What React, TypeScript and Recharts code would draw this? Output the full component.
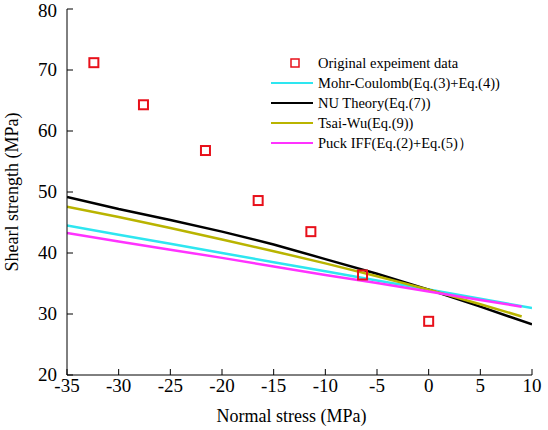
import { ComposedChart, Line, Scatter, XAxis, YAxis, Label } from 'recharts'

// measured points
const expStress = [-32.4, -27.6, -21.6, -16.5, -11.4, -6.4, 0]
const expStrength = [71.2, 64.3, 56.8, 48.6, 43.5, 36.4, 28.8]

// theory curves, sampled every 5 MPa
const stress = [-35, -30, -25, -20, -15, -10, -5, 0, 5, 10]
const mohrCoulomb = [44.5, 43.0, 41.5, 40.0, 38.5, 37.0, 35.5, 34.0, 32.5, 31.0]
const nuTheory = [49.2, 47.2, 45.4, 43.5, 41.4, 39.0, 36.6, 34.0, 31.2, 28.3]
const tsaiStress = [-35, -30, -25, -20, -15, -10, -5, 0, 5, 9]
const tsaiWu = [47.6, 45.9, 44.1, 42.2, 40.3, 38.3, 36.2, 34.0, 31.6, 29.6]
const puckStress = [-35, -30, -25, -20, -15, -10, -5, 0, 5, 9]
const puckIff = [43.3, 41.9, 40.55, 39.2, 37.8, 36.4, 35.1, 33.7, 32.3, 31.2]

const xTicks = [-35, -30, -25, -20, -15, -10, -5, 0, 5, 10]
const yTicks = [20, 30, 40, 50, 60, 70, 80]

const FONT = '"Liberation Serif", "Times New Roman", serif'

const toPoints = (xs: number[], ys: number[]) => xs.map((x, i) => ({ x, y: ys[i] }))

const lines = [
    { name: 'Mohr-Coulomb(Eq.(3)+Eq.(4))', color: '#2ee6f0', data: toPoints(stress, mohrCoulomb) },
    { name: 'NU Theory(Eq.(7))', color: '#000000', data: toPoints(stress, nuTheory) },
    { name: 'Tsai-Wu(Eq.(9))', color: '#b9b400', data: toPoints(tsaiStress, tsaiWu) },
    { name: 'Puck IFF(Eq.(2)+Eq.(5)）', color: '#ff33ff', data: toPoints(puckStress, puckIff) },
]

const SquareShape = (props: any) => {
    const { cx, cy } = props
    return <rect x={cx - 4.5} y={cy - 4.5} width={9} height={9} fill="none" stroke="#e8101a" strokeWidth={2} />
}

const XTick = (props: any) => {
    const { x, y, payload } = props
    return (
        <text x={x} y={y} dy={14} textAnchor="middle" fill="#000" fontSize={19} fontFamily={FONT}>
            {payload.value}
        </text>
    )
}

const YTick = (props: any) => {
    const { x, y, payload } = props
    // top label nudged down a little so it stays inside the picture
    const dy = payload.value === 80 ? 8 : 6
    return (
        <text x={x} y={y} dy={dy} textAnchor="end" fill="#000" fontSize={19} fontFamily={FONT}>
            {payload.value}
        </text>
    )
}

const LegendBox = () => (
    <div style={{ position: 'absolute', left: 271, top: 53, fontFamily: FONT, fontSize: 14.5, color: '#000', lineHeight: '20px' }}>
        <div style={{ display: 'flex', alignItems: 'center', height: 20 }}>
            <svg width={47} height={20}>
                <rect x={20} y={6} width={8} height={8} fill="none" stroke="#e8101a" strokeWidth={1.5} />
            </svg>
            <span>Original expeiment data</span>
        </div>
        {lines.map((l) => (
            <div key={l.name} style={{ display: 'flex', alignItems: 'center', height: 20 }}>
                <svg width={47} height={20}>
                    <line x1={0} x2={42} y1={10} y2={10} stroke={l.color} strokeWidth={2} />
                </svg>
                <span>{l.name}</span>
            </div>
        ))}
    </div>
)

export default function App() {
    return (
        <div style={{ position: 'absolute', left: 0, top: 0, width: 548, height: 430, background: '#fff', fontFamily: FONT }}>
            <ComposedChart width={548} height={430} margin={{ top: 9, right: 16, left: 0, bottom: 0 }}>
                <XAxis
                    type="number"
                    dataKey="x"
                    domain={[-35, 10]}
                    ticks={xTicks}
                    interval={0}
                    height={55}
                    tickSize={-6}
                    tickMargin={9}
                    stroke="#000"
                    tick={<XTick />}
                    allowDataOverflow
                >
                    <Label value="Normal stress (MPa)" position="insideBottom" offset={8} dx={-8} fill="#000" fontSize={18} fontFamily={FONT} />
                </XAxis>
                <YAxis
                    type="number"
                    dataKey="y"
                    domain={[20, 80]}
                    ticks={yTicks}
                    interval={0}
                    width={67}
                    tickSize={-6}
                    tickMargin={16}
                    stroke="#000"
                    tick={<YTick />}
                    allowDataOverflow
                >
                    <Label value="Shearl strength (MPa)" angle={-90} position="insideLeft" offset={12} fill="#000" fontSize={18} fontFamily={FONT} style={{ textAnchor: 'middle' }} />
                </YAxis>
                <Scatter
                    name="Original expeiment data"
                    data={toPoints(expStress, expStrength)}
                    shape={<SquareShape />}
                    isAnimationActive={false}
                />
                {lines.map((l) => (
                    <Line
                        key={l.name}
                        name={l.name}
                        data={l.data}
                        dataKey="y"
                        type="linear"
                        stroke={l.color}
                        strokeWidth={2.5}
                        dot={false}
                        activeDot={false}
                        isAnimationActive={false}
                    />
                ))}
            </ComposedChart>
            <LegendBox />
        </div>
    )
}
